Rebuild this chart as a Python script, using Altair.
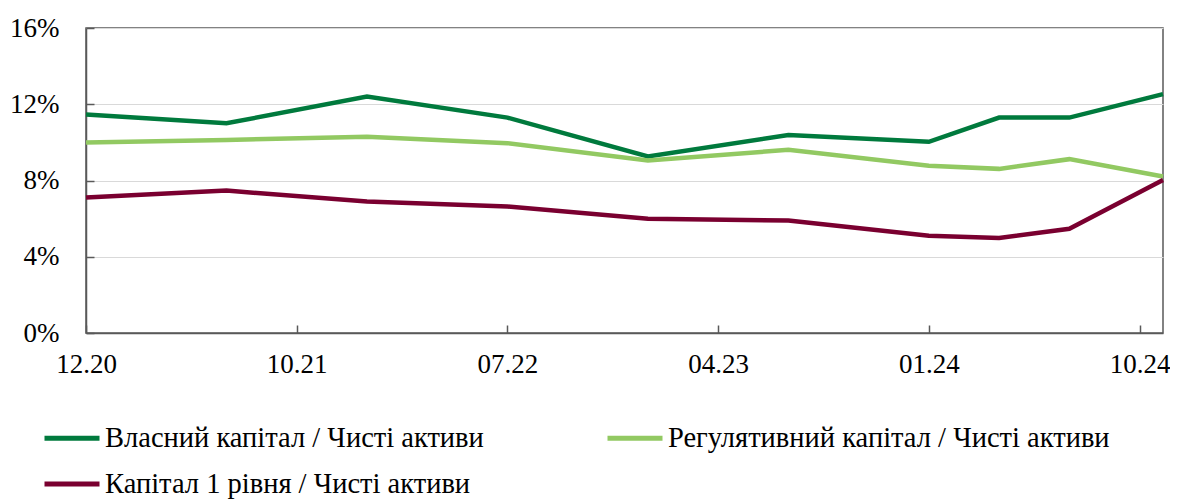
import altair as alt
import pandas as pd

# ---- data ----
month_index = [0, 6, 12, 18, 24, 30, 36, 39, 42, 46]
own_capital = [11.46, 11.00, 12.40, 11.30, 9.26, 10.39, 10.03, 11.30, 11.30, 12.53]
regulatory_capital = [9.99, 10.13, 10.30, 9.96, 9.05, 9.61, 8.77, 8.61, 9.12, 8.21]
tier1_capital = [7.11, 7.47, 6.90, 6.64, 5.99, 5.90, 5.10, 4.98, 5.47, 8.03]

series_names = [
    "Власний капітал / Чисті активи",
    "Регулятивний капітал / Чисті активи",
    "Капітал 1 рівня / Чисті активи",
]
series_colors = ["#007a3d", "#92c962", "#7a0030"]

x_tick_positions = [0, 9, 18, 27, 36, 45]
x_tick_labels = ["12.20", "10.21", "07.22", "04.23", "01.24", "10.24"]
y_ticks = [0, 4, 8, 12, 16]

rows = []
for name, values in zip(series_names, [own_capital, regulatory_capital, tier1_capital]):
    for m, v in zip(month_index, values):
        rows.append({"m": m, "value": v, "series": name})
df = pd.DataFrame(rows)

label_expr = " : ".join(
    f"datum.value == {p} ? '{l}'" for p, l in zip(x_tick_positions, x_tick_labels)
) + " : ''"

FONT = "Liberation Serif, Times New Roman, serif"
AXIS_COLOR = "#595959"
W, H = 1077, 305

x_scale = alt.Scale(domain=[0, 46], nice=False, zero=False)
y_scale = alt.Scale(domain=[0, 16], nice=False)

lines = alt.Chart(df).mark_line(strokeWidth=4.5).encode(
    x=alt.X("m:Q", scale=x_scale,
            axis=alt.Axis(values=x_tick_positions, labelExpr=label_expr, title="",
                          ticks=False, grid=False, domainColor=AXIS_COLOR, domainWidth=1.5,
                          labelFont=FONT, labelFontSize=27, labelColor="black",
                          labelPadding=18, labelFlush=False)),
    y=alt.Y("value:Q", scale=y_scale,
            axis=alt.Axis(values=y_ticks, labelExpr="datum.value + '%'", title="",
                          ticks=False, grid=True, gridColor="#d9d9d9", gridWidth=1.2,
                          domainColor=AXIS_COLOR, domainWidth=1.5,
                          labelFont=FONT, labelFontSize=27, labelColor="black",
                          labelPadding=27)),
    color=alt.Color("series:N", scale=alt.Scale(domain=series_names, range=series_colors),
                    legend=alt.Legend(title=None, orient="none", legendX=-44, legendY=380,
                                      direction="horizontal", columns=2, columnPadding=113,
                                      rowPadding=1, padding=0, symbolType="stroke",
                                      symbolSize=3025, symbolStrokeWidth=5,
                                      labelFont=FONT, labelFontSize=28.5,
                                      labelColor="black", labelOffset=3, labelLimit=800)),
    order=alt.Order("m:Q"),
)

# invisible layer that only supplies inward-pointing tick marks
ticks = alt.Chart(df).mark_point(opacity=0).encode(
    x=alt.X("m:Q", scale=x_scale,
            axis=alt.Axis(orient="top", offset=-H, values=x_tick_positions, labels=False,
                          domain=False, grid=False, ticks=True, tickSize=8,
                          tickColor=AXIS_COLOR, tickWidth=1.5, title="")),
    y=alt.Y("value:Q", scale=y_scale,
            axis=alt.Axis(orient="right", offset=-W, values=y_ticks, labels=False,
                          domain=False, grid=False, ticks=True, tickSize=8,
                          tickColor=AXIS_COLOR, tickWidth=1.5, title="")),
)

chart = alt.layer(lines, ticks).resolve_axis(x="independent", y="independent").properties(
    width=W, height=H,
    autosize=alt.AutoSizeParams(type="none"),
    padding={"left": 78, "top": 20, "right": 7, "bottom": 170},
).configure_view(stroke=AXIS_COLOR, strokeWidth=1.5)

chart.save("out.html", embed_options={"renderer": "svg", "actions": False})
